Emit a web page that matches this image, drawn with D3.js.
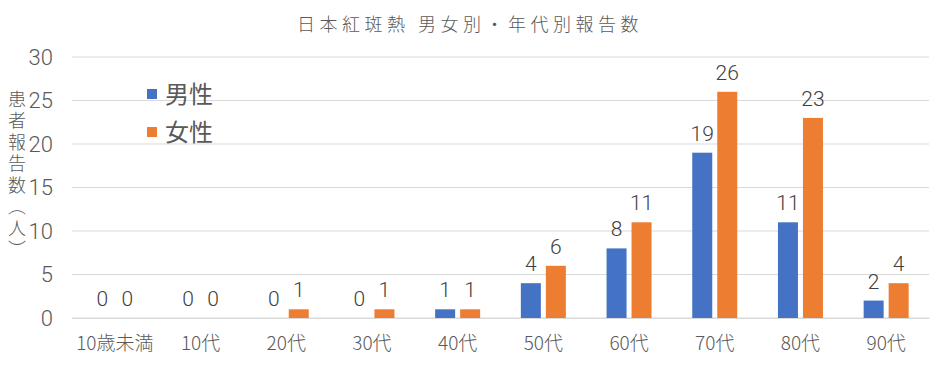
<!DOCTYPE html>
<html><head><meta charset="utf-8">
<script src="https://cdn.jsdelivr.net/npm/d3@7/dist/d3.min.js"></script>
<style>
body{margin:0;background:#fff;}
text{font-family:"Noto Sans CJK JP","DejaVu Sans",sans-serif;}
text.num{font-family:"Roboto","Liberation Sans",sans-serif;font-weight:300;}
</style></head>
<body><svg id="c" width="941" height="373"></svg>
<script>
const categories = ["10歳未満","10代","20代","30代","40代","50代","60代","70代","80代","90代"];
const male = [0,0,0,0,1,4,8,19,11,2];
const female = [0,0,1,1,1,6,11,26,23,4];
const seriesNames = ["男性","女性"];
const yTicks = [0,5,10,15,20,25,30];
const title = "日本紅斑熱 男女別・年代別報告数";
const yLabel = "患者報告数（人）";
const colors = ["#4472C4","#ED7D31"];

const svg = d3.select("#c");
const m = {l:72, r:12};
const W = 941;
const x = d3.scaleBand().domain(categories).range([m.l, W - m.r]).paddingInner(0).paddingOuter(0);
const y = d3.scaleLinear().domain([0,30]).range([318, 57]);
const inner = d3.scaleBand().domain([0,1]).range([-22.5, 22.5]).paddingInner(0.2);

// gridlines
svg.append("g").selectAll("line").data(yTicks).join("line")
  .attr("x1", m.l).attr("x2", W - m.r)
  .attr("y1", d => y(d)).attr("y2", d => y(d))
  .attr("stroke", "#d9d9d9").attr("stroke-width", 1);

// y axis
const ya = svg.append("g").attr("transform", `translate(${m.l},0)`)
  .call(d3.axisLeft(y).tickValues(yTicks).tickSize(0).tickPadding(19));
ya.select(".domain").remove();
ya.selectAll("text").attr("class","num").attr("font-size", 22).attr("fill", "#595959");

// x axis
const xa = svg.append("g").attr("transform", `translate(0,318)`)
  .call(d3.axisBottom(x).tickSize(0).tickPadding(19));
xa.select(".domain").attr("stroke", "#d9d9d9");
xa.selectAll("text").attr("font-size", 19).attr("fill", "#595959").attr("font-weight", 300);

// bars
const data = [male, female];
data.forEach((vals, s) => {
  const g = svg.append("g");
  g.selectAll("rect").data(vals).join("rect")
    .attr("x", (d,i) => x(categories[i]) + x.bandwidth()/2 + inner(s))
    .attr("width", inner.bandwidth())
    .attr("y", d => y(d))
    .attr("height", d => y(0) - y(d))
    .attr("fill", colors[s]);
  g.selectAll("text").data(vals).join("text")
    .attr("x", (d,i) => x(categories[i]) + x.bandwidth()/2 + inner(s) + inner.bandwidth()/2)
    .attr("y", d => y(d) - 12)
    .attr("text-anchor", "middle")
    .attr("class","num")
    .attr("font-size", 21).attr("fill", "#404040")
    .text(d => d);
});

// title
svg.append("text").attr("x", 470).attr("y", 31).attr("text-anchor", "middle")
  .attr("font-size", 18).attr("letter-spacing", 4.5).attr("fill", "#595959").attr("font-weight", 300)
  .text(title);

// y label vertical
svg.append("text").attr("transform", "translate(17,176)")
  .attr("writing-mode", "vertical-rl").attr("text-anchor", "middle")
  .attr("font-size", 18).attr("letter-spacing", 3.5).attr("fill", "#595959").attr("font-weight", 300)
  .text(yLabel);

// legend
seriesNames.forEach((n, i) => {
  const ly = 94 + i * 38;
  svg.append("rect").attr("x", 147).attr("y", ly - 5).attr("width", 10).attr("height", 10).attr("fill", colors[i]);
  svg.append("text").attr("x", 165).attr("y", ly + 9).attr("font-size", 24).attr("fill", "#595959").text(n);
});
</script></body></html>
